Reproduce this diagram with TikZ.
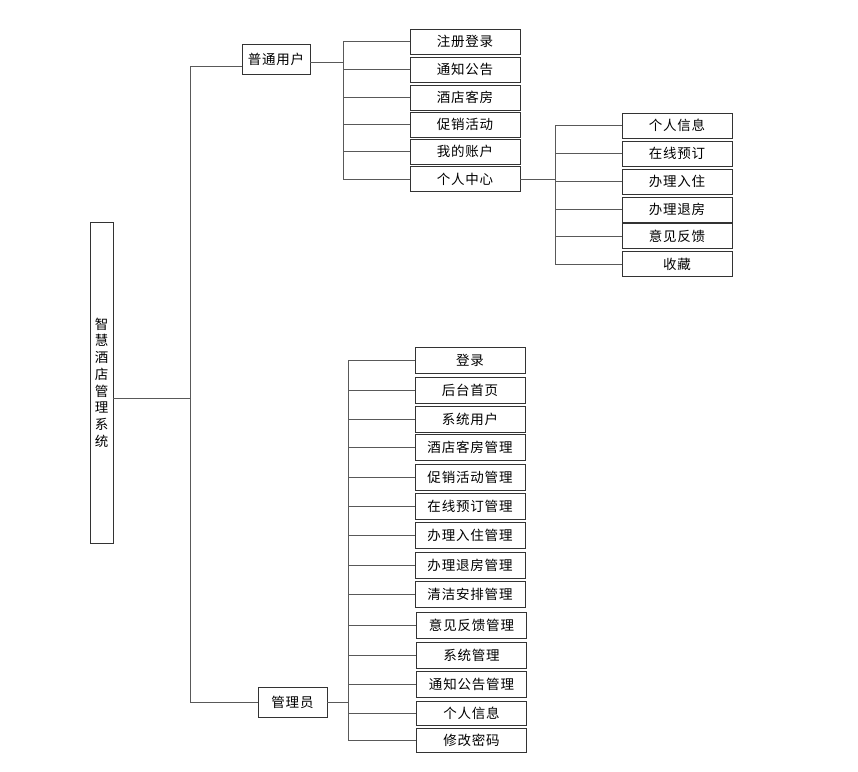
\documentclass[tikz,border=0pt]{standalone}
\usepackage{fontspec}
\setmainfont{Noto Sans CJK SC}[LetterSpace=6]
\begin{document}
\begin{tikzpicture}[x=1pt,y=-1pt,
  box/.style={draw=black!80, line width=0.9pt, fill=white, inner sep=0pt, font=\fontsize{13.5}{16}\selectfont},
  leaf/.style={box, minimum width=110pt, minimum height=25pt},
  link/.style={draw=black!65, line width=0.9pt}]
\useasboundingbox (0,0) rectangle (858,771);
% root
\node[box, minimum width=23pt, minimum height=321pt, align=center, font=\fontsize{13.5}{16.7}\selectfont] (root) at (101.5,382.5) {智\\慧\\酒\\店\\管\\理\\系\\统};
\coordinate (m) at (190,398);
\node[box, minimum width=68pt, minimum height=30pt] (user) at (276,59) {普通用户};
\node[box, minimum width=69pt, minimum height=30pt] (admin) at (292.5,702) {管理员};
\draw[link] ([yshift=-15.5pt]root.east) -- (m);
\draw[link] ([yshift=-7pt]user.west) -| (m);
\draw[link] (admin.west) -| (m);
% user children
\coordinate (sA) at (343,0);
\node[leaf] (u1) at (465,41.5) {注册登录};
\node[leaf] (u2) at (465,69.5) {通知公告};
\node[leaf] (u3) at (465,97.5) {酒店客房};
\node[leaf] (u4) at (465,124.5) {促销活动};
\node[leaf] (u5) at (465,151.5) {我的账户};
\node[leaf] (u6) at (465,179) {个人中心};
\draw[link] ([yshift=-3pt]user.east) -- ([yshift=-3pt]user.east -| sA);
\draw[link] (u1.west -| sA) -- (u6.west -| sA);
\foreach \n in {u1,u2,u3,u4,u5,u6} \draw[link] (\n.west) -- (\n.west -| sA);
% personal center children
\coordinate (sB) at (555,0);
\node[leaf] (p1) at (677,125.5) {个人信息};
\node[leaf] (p2) at (677,153.5) {在线预订};
\node[leaf] (p3) at (677,181.5) {办理入住};
\node[leaf] (p4) at (677,209.5) {办理退房};
\node[leaf] (p5) at (677,236) {意见反馈};
\node[leaf] (p6) at (677,264) {收藏};
\draw[link] (u6.east) -- (u6.east -| sB);
\draw[link] (p1.west -| sB) -- (p6.west -| sB);
\foreach \n in {p1,p2,p3,p4,p5,p6} \draw[link] (\n.west) -- (\n.west -| sB);
% admin children
\coordinate (sC) at (348,0);
\tikzset{aleaf/.style={leaf, minimum height=26pt}}
\node[aleaf] (a1) at (470,360) {登录};
\node[aleaf] (a2) at (470,390) {后台首页};
\node[aleaf] (a3) at (470,419) {系统用户};
\node[aleaf] (a4) at (470,447.5) {酒店客房管理};
\node[aleaf] (a5) at (470,477.5) {促销活动管理};
\node[aleaf] (a6) at (470,506.5) {在线预订管理};
\node[aleaf] (a7) at (470,535.5) {办理入住管理};
\node[aleaf] (a8) at (470,565) {办理退房管理};
\node[aleaf] (a9) at (470,594) {清洁安排管理};
\node[aleaf] (a10) at (471.5,625.5) {意见反馈管理};
\node[aleaf] (a11) at (471.5,655) {系统管理};
\node[aleaf] (a12) at (471.5,684) {通知公告管理};
\node[aleaf, minimum height=24pt] (a13) at (471.5,713) {个人信息};
\node[aleaf, minimum height=24pt] (a14) at (471.5,740.5) {修改密码};
\draw[link] (admin.east) -- (admin.east -| sC);
\draw[link] (a1.west -| sC) -- (a14.west -| sC);
\foreach \n in {a1,a2,a3,a4,a5,a6,a7,a8,a9,a10,a11,a12,a13,a14} \draw[link] (\n.west) -- (\n.west -| sC);
\end{tikzpicture}
\end{document}
